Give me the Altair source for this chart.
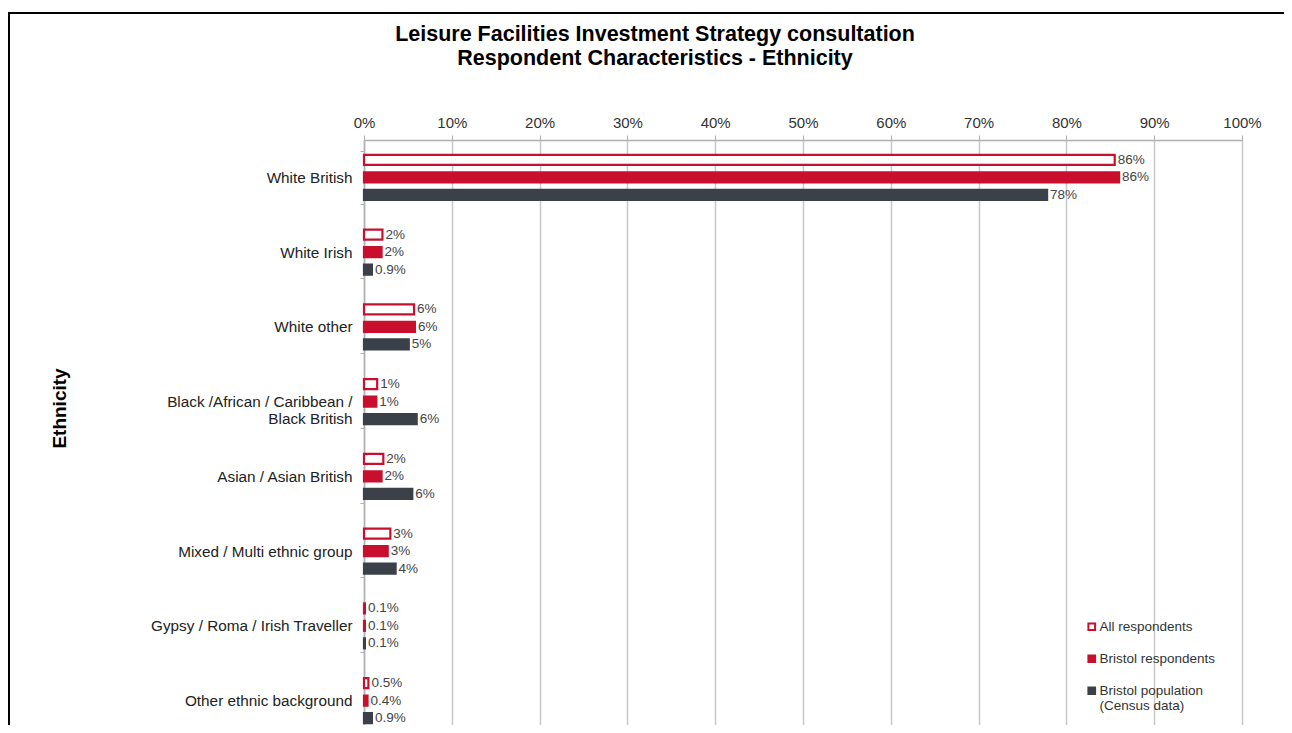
import altair as alt
import pandas as pd

categories = [
    "White British",
    "White Irish",
    "White other",
    "Black /African / Caribbean / Black British",
    "Asian / Asian British",
    "Mixed / Multi ethnic group",
    "Gypsy / Roma / Irish Traveller",
    "Other ethnic background",
]
series = ["All respondents", "Bristol respondents", "Bristol population (Census data)"]

all_resp = [85.5, 2.1, 5.7, 1.5, 2.2, 3.0, 0.1, 0.5]
bristol_resp = [86.0, 2.0, 5.8, 1.4, 2.0, 2.7, 0.1, 0.4]
population = [77.8, 0.9, 5.1, 6.0, 5.5, 3.6, 0.1, 0.9]

all_labels = ["86%", "2%", "6%", "1%", "2%", "3%", "0.1%", "0.5%"]
bristol_labels = ["86%", "2%", "6%", "1%", "2%", "3%", "0.1%", "0.4%"]
population_labels = ["78%", "0.9%", "5%", "6%", "6%", "4%", "0.1%", "0.9%"]

rows = []
for s, vals, labs in zip(series, [all_resp, bristol_resp, population],
                         [all_labels, bristol_labels, population_labels]):
    for c, v, l in zip(categories, vals, labs):
        rows.append({"Ethnicity": c, "Series": s, "Value": v, "Label": l})
df = pd.DataFrame(rows)

RED = "#C8102E"
DARK = "#3B4049"

y_enc = alt.Y(
    "Ethnicity:N",
    sort=categories,
    scale=alt.Scale(paddingInner=0.3, paddingOuter=0.15),
    axis=alt.Axis(
        title="Ethnicity",
        titleFont="Liberation Sans",
        titleFontSize=19,
        titleFontWeight="bold",
        titleColor="#000000",
        titleAngle=-90,
        titleX=-305,
        titleY=268,
        titleAlign="center",
        titleBaseline="middle",
        labelFont="Liberation Sans",
        labelFontSize=15.3,
        labelColor="#222222",
        labelPadding=8,
        labelLimit=400,
        labelExpr="datum.value == 'Black /African / Caribbean / Black British' ? ['Black /African / Caribbean /', 'Black British'] : datum.value",
        labelAlign="right",
        labelLineHeight=17,
        tickBand="extent",
        tickSize=4,
        tickColor="#b0b0b0",
        domainColor="#b0b0b0",
        domainWidth=1.5,
        grid=False,
    ),
)
yoff = alt.YOffset(
    "Series:N",
    sort=series,
    scale=alt.Scale(paddingInner=0.43, paddingOuter=0.215),
)

x_enc = alt.X(
    "Value:Q",
    scale=alt.Scale(domain=[0, 100], nice=False),
    axis=alt.Axis(
        orient="top",
        title=None,
        values=list(range(0, 101, 10)),
        labelExpr="datum.value + '%'",
        labelFont="Liberation Sans",
        labelFontSize=15,
        labelColor="#333333",
        labelPadding=5,
        labelFlush=False,
        tickSize=5,
        tickColor="#b0b0b0",
        domainColor="#b0b0b0",
        domainWidth=1.5,
        grid=True,
        gridColor="#c8c8c8",
        gridWidth=1.5,
    ),
)

color_scale_fill = alt.Scale(domain=series, range=["#ffffff", RED, DARK])
color_scale_stroke = alt.Scale(domain=series, range=[RED, RED, DARK])

legend = alt.Legend(
    title=None,
    orient="none",
    legendX=721,
    legendY=480,
    symbolType="square",
    symbolSize=45,
    symbolStrokeWidth=2,
    labelFont="Liberation Sans",
    labelFontSize=13.5,
    labelColor="#333333",
    labelOffset=1,
    rowPadding=16,
    labelLimit=300,
    labelExpr="datum.label == 'Bristol population (Census data)' ? ['Bristol population', '(Census data)'] : datum.label",
)

base = alt.Chart(df)

bars = base.mark_bar(strokeWidth=2.2).encode(
    x=x_enc,
    y=y_enc,
    yOffset=yoff,
    fill=alt.Fill("Series:N", scale=color_scale_fill, sort=series, legend=legend),
    stroke=alt.Stroke("Series:N", scale=color_scale_stroke, sort=series, legend=legend),
)

texts = base.mark_text(
    align="left", baseline="middle", dx=3, font="Liberation Sans", fontSize=13.5, color="#444444"
).encode(
    x="Value:Q",
    y=alt.Y("Ethnicity:N", sort=categories),
    yOffset=alt.YOffset("Series:N", sort=series),
    text="Label:N",
)

one = pd.DataFrame({"a": [0]})
border_top = alt.Chart(one).mark_rule(color="#000000", strokeWidth=2).encode(
    x=alt.value(-356), x2=alt.value(940), y=alt.value(-127)
)
border_left = alt.Chart(one).mark_rule(color="#000000", strokeWidth=2).encode(
    x=alt.value(-355), y=alt.value(-128), y2=alt.value(700)
)

chart = alt.layer(bars, texts, border_top, border_left).properties(
    width=878,
    height=598,
    autosize=alt.AutoSizeParams(type="none"),
    padding={"left": 356, "top": 132, "right": 42, "bottom": -13},
    title=alt.TitleParams(
        text=["Leisure Facilities Investment Strategy consultation",
              "Respondent Characteristics - Ethnicity"],
        font="Liberation Sans",
        fontSize=21.5,
        fontWeight="bold",
        color="#000000",
        anchor="middle",
        lineHeight=24,
        dx=-148,
        dy=62,
    ),
).configure_view(stroke=None).configure(background="#ffffff")

chart.save("out.html", embed_options={"renderer": "svg", "actions": False})
